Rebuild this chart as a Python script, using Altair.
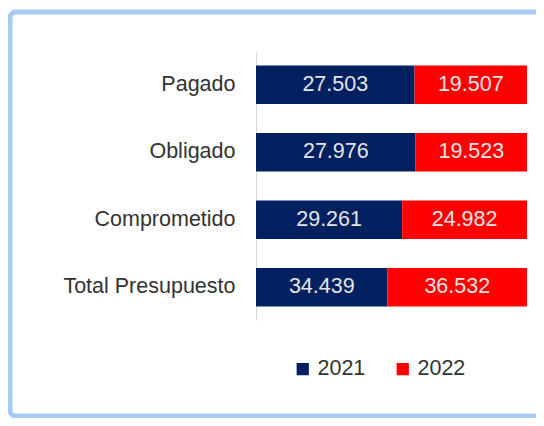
import altair as alt
import pandas as pd

categories = ["Pagado", "Obligado", "Comprometido", "Total Presupuesto"]
years = ["2021", "2022"]
values_2021 = [27.503, 27.976, 29.261, 34.439]
values_2022 = [19.507, 19.523, 24.982, 36.532]
labels_2021 = ["27.503", "27.976", "29.261", "34.439"]
labels_2022 = ["19.507", "19.523", "24.982", "36.532"]
colors = ["#002060", "#FF0000"]

rows = []
for i, c in enumerate(categories):
    rows.append({"cat": c, "year": years[0], "value": values_2021[i], "label": labels_2021[i], "ord": 0})
    rows.append({"cat": c, "year": years[1], "value": values_2022[i], "label": labels_2022[i], "ord": 1})
df = pd.DataFrame(rows)

FONT = "Liberation Sans"

yenc = alt.Y(
    "cat:N", sort=categories, title=None,
    scale=alt.Scale(paddingInner=0.43, paddingOuter=0.2),
    axis=alt.Axis(ticks=False, domainColor="#d9d9d9", domainWidth=1, labelFont=FONT,
                  labelFontSize=21.5, labelColor="#333333", labelPadding=21, grid=False),
)

base = alt.Chart(df).transform_stack(
    stack="value", groupby=["cat"], as_=["x0", "x1"], offset="normalize",
    sort=[alt.SortField("ord", order="ascending")],
).transform_calculate(mid="(datum.x0 + datum.x1) / 2")

bars = base.mark_bar().encode(
    x=alt.X("x0:Q", scale=alt.Scale(domain=[0, 1], nice=False), axis=None),
    x2="x1:Q",
    y=yenc,
    color=alt.Color(
        "year:N", scale=alt.Scale(domain=years, range=colors),
        legend=alt.Legend(title=None, orient="none", legendX=36, legendY=306,
                          direction="horizontal", symbolType="square", symbolSize=150,
                          symbolStrokeWidth=0, labelFont=FONT, labelFontSize=21.5,
                          labelColor="#333333", labelOffset=4, columnPadding=26),
    ),
)

texts = base.mark_text(font=FONT, fontSize=21.5, color="#e4e4e4").encode(
    x=alt.X("mid:Q"),
    y=alt.Y("cat:N", sort=categories),
    text="label:N",
)

border = alt.Chart(pd.DataFrame({"a": [0]})).mark_rect(
    fillOpacity=0, stroke="#a8cbf3", strokeWidth=5, cornerRadius=6
).encode(
    x=alt.value(-246), x2=alt.value(300), y=alt.value(-40), y2=alt.value(364)
)

chart = alt.layer(border, bars, texts).properties(
    width=271, height=268,
    autosize=alt.AutoSizeParams(type="none"),
    padding={"left": 248, "top": 44, "right": 9, "bottom": 98},
    background="white",
).configure_view(stroke=None)

chart.save("out.html", embed_options={"renderer": "svg", "actions": False})
